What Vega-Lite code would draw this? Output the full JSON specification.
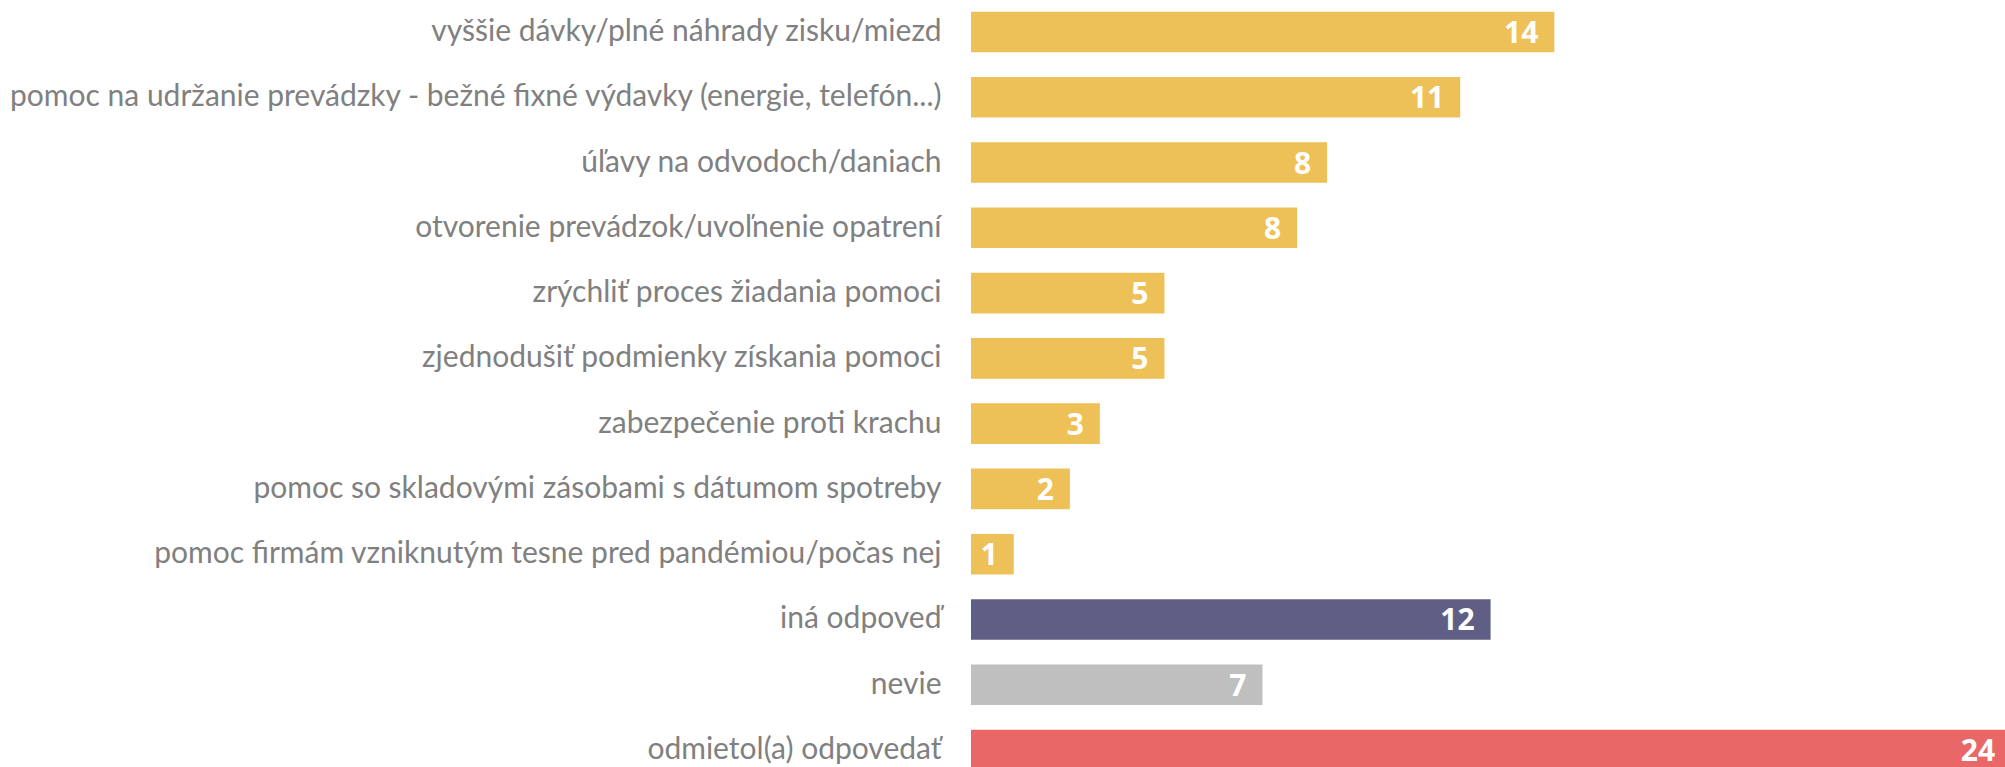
{
  "$schema": "https://vega.github.io/schema/vega-lite/v6.json",
  "width": 1034,
  "height": 782,
  "autosize": {"type": "none"},
  "padding": {"left": 971, "top": 0, "right": 0, "bottom": 0},
  "background": "white",
  "config": {"view": {"stroke": null}},
  "data": {
    "values": [
      {"category": "vyššie dávky/plné náhrady zisku/miezd", "value": 13.63, "group": "a"},
      {"category": "pomoc na udržanie prevádzky - bežné fixné výdavky (energie, telefón...)", "value": 11.43, "group": "a"},
      {"category": "úľavy na odvodoch/daniach", "value": 8.32, "group": "a"},
      {"category": "otvorenie prevádzok/uvoľnenie opatrení", "value": 7.62, "group": "a"},
      {"category": "zrýchliť proces žiadania pomoci", "value": 4.52, "group": "a"},
      {"category": "zjednodušiť podmienky získania pomoci", "value": 4.52, "group": "a"},
      {"category": "zabezpečenie proti krachu", "value": 3.01, "group": "a"},
      {"category": "pomoc so skladovými zásobami s dátumom spotreby", "value": 2.31, "group": "a"},
      {"category": "pomoc firmám vzniknutým tesne pred pandémiou/počas nej", "value": 1.0, "group": "a"},
      {"category": "iná odpoveď", "value": 12.14, "group": "b"},
      {"category": "nevie", "value": 6.81, "group": "c"},
      {"category": "odmietol(a) odpovedať", "value": 24.3, "group": "d"}
    ]
  },
  "encoding": {
    "y": {
      "field": "category",
      "type": "nominal",
      "sort": null,
      "scale": {"paddingInner": 0.378, "paddingOuter": 0.179},
      "axis": {
        "title": null,
        "ticks": false,
        "domain": false,
        "labelPadding": 30,
        "labelFontSize": 30,
        "labelFont": "Lato",
        "labelColor": "#808080",
        "labelLimit": 0
      }
    },
    "x": {
      "field": "value",
      "type": "quantitative",
      "scale": {"domain": [0, 24.159], "nice": false},
      "axis": null
    }
  },
  "layer": [
    {
      "mark": {"type": "bar"},
      "encoding": {
        "color": {
          "field": "group",
          "type": "nominal",
          "scale": {"domain": ["a", "b", "c", "d"], "range": ["#EEC158", "#5F5F86", "#BFBFBF", "#E96767"]},
          "legend": null
        }
      }
    },
    {
      "mark": {"type": "text", "align": "right", "baseline": "middle", "dx": -16, "dy": 2, "color": "white", "fontSize": 30, "fontWeight": "bold", "font": "Open Sans"},
      "encoding": {
        "text": {"field": "value", "type": "quantitative", "format": ".0f"}
      }
    }
  ]
}
